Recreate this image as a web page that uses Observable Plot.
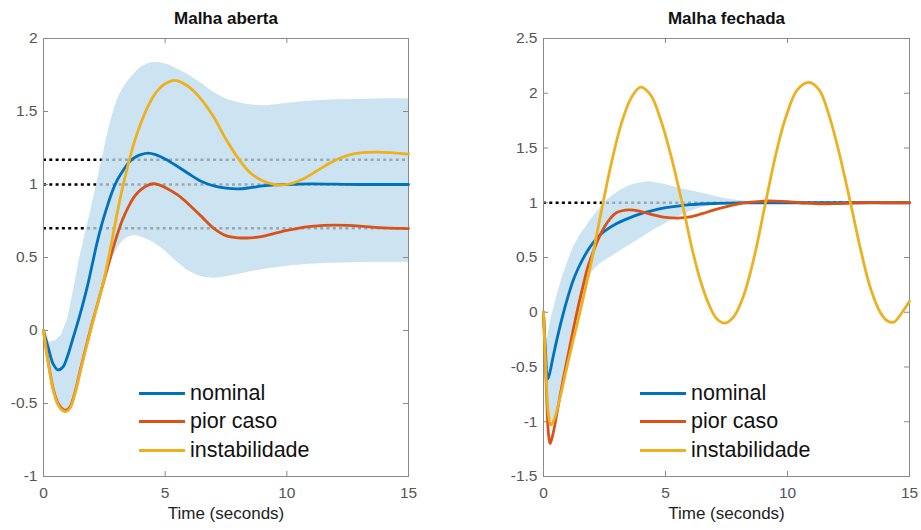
<!DOCTYPE html>
<html>
<head>
<meta charset="utf-8">
<script src="https://cdn.jsdelivr.net/npm/d3@7"></script>
<script src="https://cdn.jsdelivr.net/npm/@observablehq/plot@0.6"></script>
<style>
  html, body { margin: 0; padding: 0; background: #fff; }
  #wrap { position: relative; width: 921px; height: 530px; display: flex; font-family: "Liberation Sans", Arial, sans-serif; }
  .leg { position: absolute; display: flex; align-items: center; font-size: 21.5px; color: #111; white-space: nowrap; }
  .leg .sw { width: 46px; height: 3px; margin-right: 5px; }
</style>
</head>
<body>
<div id="wrap"></div>
<script>
// ---- data ----
const xTicks = [0, 5, 10, 15];
const yTicksOpen = [-1, -0.5, 0, 0.5, 1, 1.5, 2];
const yTicksClosed = [-1.5, -1, -0.5, 0, 0.5, 1, 1.5, 2, 2.5];
const seriesNames = ["nominal", "pior caso", "instabilidade"];
const seriesColors = ["#0072BD", "#D95319", "#EDB120"];
const titles = ["Malha aberta", "Malha fechada"];
const xLabel = "Time (seconds)";
const refLevelsOpen = [1.17, 1.0, 0.7];
const refLevelsClosed = [1.0];

// Open loop (Malha aberta): [time, value]
const openNominal = [[0,0],[0.2,-0.12],[0.4,-0.23],[0.6,-0.27],[0.8,-0.25],[1.0,-0.17],[1.2,-0.06],[1.4,0.05],[1.6,0.17],[1.8,0.3],[2.0,0.45],[2.2,0.6],[2.4,0.73],[2.6,0.84],[2.8,0.94],[3.0,1.02],[3.25,1.09],[3.5,1.15],[3.75,1.185],[4.0,1.205],[4.3,1.215],[4.6,1.205],[5.0,1.175],[5.5,1.125],[6.0,1.07],[6.5,1.02],[7.0,0.99],[7.5,0.975],[8.0,0.97],[8.5,0.978],[9.0,0.99],[9.5,0.998],[10,1.0],[11,1.004],[12,1.002],[13,1.0],[14,1.0],[15,1.0]];
const openWorst = [[0,0],[0.2,-0.22],[0.4,-0.4],[0.6,-0.5],[0.8,-0.54],[0.95,-0.545],[1.1,-0.52],[1.3,-0.42],[1.5,-0.28],[1.75,-0.11],[2.0,0.05],[2.25,0.2],[2.5,0.35],[2.75,0.5],[3.0,0.64],[3.25,0.76],[3.5,0.85],[3.75,0.92],[4.0,0.965],[4.25,0.992],[4.5,1.005],[4.75,0.998],[5.0,0.98],[5.5,0.93],[6.0,0.86],[6.5,0.78],[7.0,0.7],[7.5,0.65],[8.0,0.635],[8.5,0.635],[9.0,0.645],[9.5,0.665],[10,0.685],[10.5,0.702],[11,0.713],[11.5,0.72],[12,0.722],[12.5,0.72],[13,0.715],[13.5,0.708],[14,0.703],[14.5,0.7],[15,0.698]];
const openUnstable = [[0,0],[0.2,-0.23],[0.4,-0.41],[0.6,-0.51],[0.8,-0.55],[0.95,-0.555],[1.1,-0.53],[1.3,-0.43],[1.5,-0.29],[1.75,-0.12],[2.0,0.04],[2.25,0.2],[2.5,0.36],[2.75,0.56],[3.0,0.78],[3.25,0.98],[3.5,1.15],[3.75,1.3],[4.0,1.42],[4.25,1.52],[4.5,1.6],[4.75,1.655],[5.0,1.69],[5.3,1.712],[5.6,1.705],[6.0,1.665],[6.5,1.58],[7.0,1.46],[7.5,1.31],[8.0,1.18],[8.5,1.08],[9.0,1.025],[9.5,1.0],[9.8,0.997],[10.25,1.01],[10.75,1.045],[11.25,1.095],[11.75,1.145],[12.25,1.185],[12.75,1.21],[13.25,1.22],[13.75,1.222],[14.25,1.218],[14.75,1.212],[15,1.208]];
const openBandUpper = [[0,0],[0.25,-0.08],[0.5,-0.07],[0.75,-0.03],[1.0,0.08],[1.25,0.28],[1.5,0.5],[1.75,0.68],[2.0,0.86],[2.25,1.05],[2.5,1.24],[2.75,1.42],[3.0,1.56],[3.25,1.65],[3.5,1.71],[3.75,1.76],[4.0,1.8],[4.5,1.835],[5.0,1.825],[5.5,1.79],[6.0,1.745],[6.5,1.69],[7.0,1.63],[7.5,1.585],[8.0,1.56],[8.5,1.545],[9.0,1.54],[9.5,1.545],[10,1.555],[11,1.57],[12,1.578],[13,1.582],[14,1.585],[15,1.585]];
const openBandLower = [[0,0],[0.2,-0.24],[0.4,-0.42],[0.6,-0.52],[0.8,-0.56],[0.95,-0.565],[1.1,-0.54],[1.3,-0.44],[1.5,-0.3],[1.75,-0.13],[2.0,0.03],[2.25,0.18],[2.5,0.33],[2.75,0.46],[3.0,0.55],[3.25,0.61],[3.5,0.64],[3.75,0.65],[4.0,0.64],[4.5,0.605],[5.0,0.545],[5.5,0.47],[6.0,0.405],[6.5,0.37],[7.0,0.36],[7.5,0.368],[8.0,0.385],[8.5,0.402],[9.0,0.418],[10,0.44],[11,0.455],[12,0.462],[13,0.466],[14,0.468],[15,0.468]];

// Closed loop (Malha fechada): [time, value]
const closedNominal = [[0,0],[0.08,-0.35],[0.17,-0.61],[0.25,-0.56],[0.4,-0.4],[0.6,-0.2],[0.8,-0.02],[1.0,0.14],[1.2,0.28],[1.4,0.39],[1.6,0.48],[1.8,0.56],[2.0,0.625],[2.25,0.69],[2.5,0.74],[3.0,0.81],[3.5,0.86],[4.0,0.9],[4.5,0.93],[5.0,0.955],[5.5,0.97],[6.0,0.982],[7.0,0.993],[8.0,0.998],[9.0,1.0],[10,1.0],[12,1.0],[15,1.0]];
const closedWorst = [[0,0],[0.1,-0.6],[0.2,-1.1],[0.27,-1.2],[0.4,-1.1],[0.6,-0.86],[0.8,-0.62],[1.0,-0.4],[1.2,-0.18],[1.4,0.03],[1.6,0.22],[1.8,0.4],[2.0,0.53],[2.25,0.67],[2.5,0.78],[2.75,0.86],[3.0,0.91],[3.5,0.935],[4.0,0.92],[4.5,0.89],[5.0,0.867],[5.5,0.86],[6.0,0.87],[6.5,0.9],[7.0,0.935],[7.5,0.965],[8.0,0.99],[8.5,1.005],[9.0,1.015],[9.5,1.015],[10,1.01],[10.5,1.0],[11,0.995],[11.5,0.99],[12,0.992],[12.5,0.996],[13,1.0],[14,1.0],[15,1.0]];
const closedUnstable = [[0,0],[0.1,-0.55],[0.2,-0.93],[0.3,-1.03],[0.45,-0.97],[0.7,-0.76],[1.0,-0.46],[1.3,-0.18],[1.6,0.1],[1.8,0.3],[2.0,0.5],[2.2,0.73],[2.44,1.0],[2.8,1.38],[3.2,1.73],[3.6,1.96],[3.98,2.055],[4.4,1.98],[4.8,1.76],[5.2,1.45],[5.68,1.0],[6.1,0.57],[6.43,0.29],[6.8,0.06],[7.1,-0.06],[7.43,-0.1],[7.8,-0.04],[8.2,0.15],[8.6,0.47],[9.1,1.0],[9.5,1.42],[9.9,1.76],[10.4,2.03],[10.87,2.1],[11.3,2.03],[11.7,1.8],[12.1,1.47],[12.58,1.0],[13.0,0.57],[13.4,0.22],[13.8,0.0],[14.1,-0.08],[14.36,-0.09],[14.7,0.0],[15,0.1]];
const closedBandUpper = [[0,0],[0.15,-0.25],[0.3,-0.08],[0.5,0.1],[0.75,0.3],[1.0,0.46],[1.25,0.6],[1.5,0.7],[1.75,0.78],[2.0,0.86],[2.5,1.0],[3.0,1.09],[3.5,1.15],[4.0,1.18],[4.4,1.19],[5.0,1.165],[5.5,1.135],[6.0,1.11],[6.5,1.085],[7.0,1.06],[7.5,1.035],[8.0,1.02],[8.5,1.008],[9.0,1.004],[10,1.001],[15,1.0]];
const closedBandLower = [[0,0],[0.1,-0.5],[0.2,-0.9],[0.3,-1.0],[0.45,-0.95],[0.7,-0.74],[1.0,-0.45],[1.3,-0.17],[1.6,0.1],[1.8,0.27],[2.0,0.37],[2.25,0.43],[2.5,0.47],[3.0,0.54],[3.5,0.61],[4.0,0.68],[4.5,0.75],[5.0,0.81],[5.5,0.87],[6.0,0.92],[6.5,0.96],[7.0,0.98],[7.5,0.99],[8.0,0.995],[9.0,0.999],[10,1.0],[15,1.0]];

// ---- drawing ----
const FONT = "'Liberation Sans', Arial, Helvetica, sans-serif";
const BAND = "#cce3f1";
const AXIS = "#8a8a8a";
const TICKTXT = "#555";

function bandData(upper, lower) {
  return upper.map(([t, u], i) => ({t, u, l: lower[i] ? lower[i][1] : u}));
}
function mergeBand(upper, lower) {
  // align upper/lower on the union of their sample times
  const times = Array.from(new Set([...upper.map(d => d[0]), ...lower.map(d => d[0])])).sort((a, b) => a - b);
  const at = (arr, t) => {
    for (let i = 0; i < arr.length - 1; i++) {
      const [t0, v0] = arr[i], [t1, v1] = arr[i + 1];
      if (t >= t0 && t <= t1) return v0 + (v1 - v0) * (t - t0) / (t1 - t0);
    }
    return arr[arr.length - 1][1];
  };
  return times.map(t => ({t, u: at(upper, t), l: at(lower, t)}));
}

function panel({width, marginLeft, marginRight, yDomain, yTicks, series, upper, lower, refs, title}) {
  const marginTop = 38, marginBottom = 54, height = 530;
  const fw = width - marginLeft - marginRight;
  const fh = height - marginTop - marginBottom;
  const band = mergeBand(upper, lower);
  const areaOpts = {x: "t", y1: "l", y2: "u", curve: "catmull-rom", fill: BAND};
  return Plot.plot({
    width, height, marginLeft, marginRight, marginTop, marginBottom,
    x: {domain: [0, 15]},
    y: {domain: yDomain},
    style: {fontFamily: FONT, background: "white", overflow: "visible"},
    marks: [
      Plot.areaY(band, areaOpts),
      Plot.ruleY(refs, {y: d => d, stroke: "black", strokeWidth: 2.6, strokeDasharray: "3,3.3"}),
      Plot.areaY(band, {...areaOpts, fillOpacity: 0.74}),
      Plot.frame({stroke: AXIS, strokeWidth: 1}),
      Plot.tickX(xTicks, {x: d => d, insetTop: fh - 5, stroke: AXIS}),
      Plot.tickX(xTicks, {x: d => d, insetBottom: fh - 5, stroke: AXIS}),
      Plot.tickY(yTicks, {y: d => d, insetRight: fw - 5, stroke: AXIS}),
      Plot.tickY(yTicks, {y: d => d, insetLeft: fw - 5, stroke: AXIS}),
      ...series.map((s, i) => Plot.line(s, {x: d => d[0], y: d => d[1], stroke: seriesColors[i], strokeWidth: 2.8, curve: "catmull-rom"})),
      Plot.axisX({ticks: xTicks, tickSize: 0, tickPadding: 10, tickFormat: d => String(d), fontSize: 15.5, color: TICKTXT, label: null}),
      Plot.axisY({ticks: yTicks, tickSize: 0, tickPadding: 6, tickFormat: d => String(d), fontSize: 15.5, color: TICKTXT, label: null}),
      Plot.text([xLabel], {text: d => d, frameAnchor: "bottom", dy: 37, lineAnchor: "middle", fontSize: 17, fill: "#222"}),
      Plot.text([title], {text: d => d, frameAnchor: "top", dy: -20, lineAnchor: "middle", fontSize: 17, fontWeight: "bold", fill: "#111"})
    ]
  });
}

const wrap = document.getElementById("wrap");
wrap.appendChild(panel({
  width: 460, marginLeft: 43, marginRight: 52,
  yDomain: [-1, 2], yTicks: yTicksOpen,
  series: [openNominal, openWorst, openUnstable],
  upper: openBandUpper, lower: openBandLower,
  refs: refLevelsOpen, title: titles[0]
}));
wrap.appendChild(panel({
  width: 461, marginLeft: 83, marginRight: 12,
  yDomain: [-1.5, 2.5], yTicks: yTicksClosed,
  series: [closedNominal, closedWorst, closedUnstable],
  upper: closedBandUpper, lower: closedBandLower,
  refs: refLevelsClosed, title: titles[1]
}));

// in-plot legends (no box), one per panel
function legend(left, top) {
  seriesNames.forEach((name, i) => {
    const row = document.createElement("div");
    row.className = "leg";
    row.style.left = left + "px";
    row.style.top = (top + i * 28.5 - 13) + "px";
    row.style.height = "26px";
    const sw = document.createElement("span");
    sw.className = "sw";
    sw.style.background = seriesColors[i];
    const tx = document.createElement("span");
    tx.textContent = name;
    row.appendChild(sw);
    row.appendChild(tx);
    wrap.appendChild(row);
  });
}
legend(139, 393);
legend(640, 393);
</script>
</body>
</html>
